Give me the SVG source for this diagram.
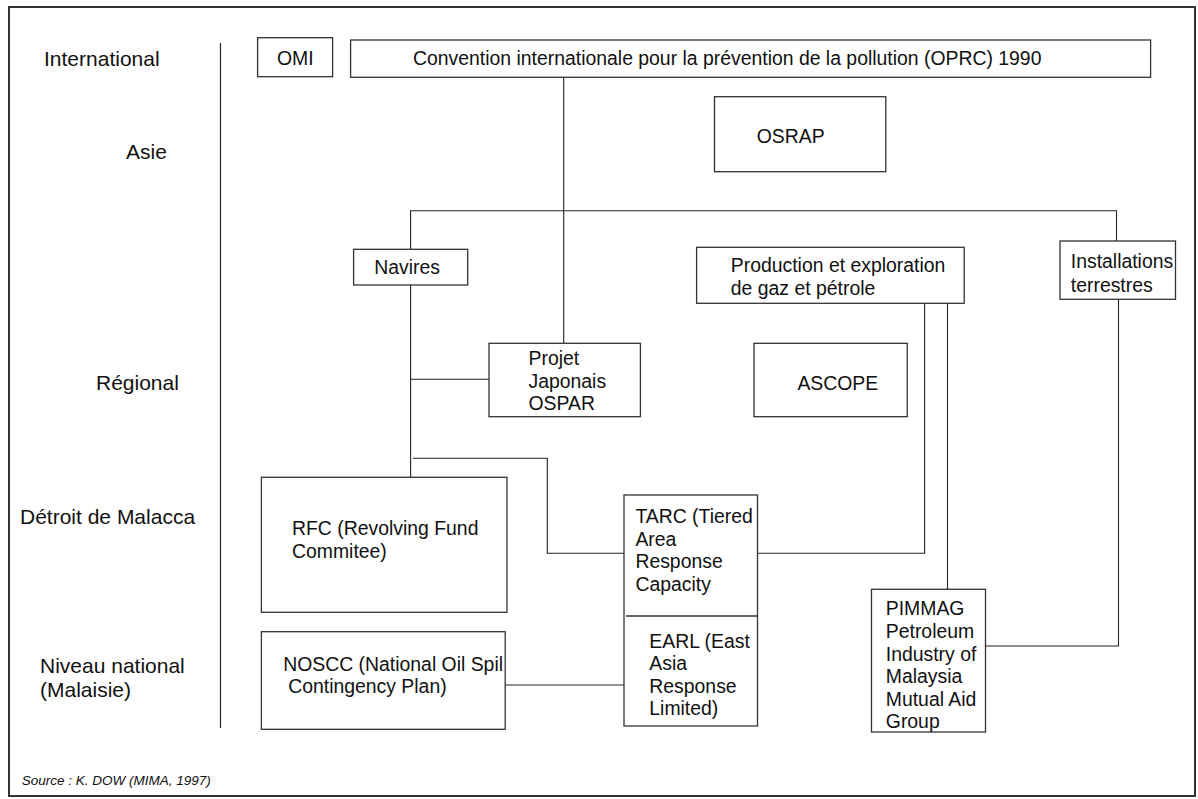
<svg xmlns="http://www.w3.org/2000/svg" width="1198" height="799" viewBox="0 0 1198 799">
<style>
  text { font-family: "Liberation Sans", Arial, sans-serif; fill: #111; }
  .lbl { font-size: 21px; }
  .bx { font-size: 19.4px; }
  .src { font-size: 13.5px; font-style: italic; }
  rect.node { fill: #fff; stroke: #333; stroke-width: 1.3; }
  .conn path, .conn line { fill: none; stroke: #222; stroke-width: 1.1; }
</style>
<rect x="0" y="0" width="1198" height="799" fill="#fff"/>
<rect x="9" y="7" width="1186" height="789" fill="none" stroke="#333" stroke-width="2"/>
<line x1="220.5" y1="43" x2="220.5" y2="728" stroke="#222" stroke-width="1.2"/>

<g id="levels">
  <text class="lbl" x="44" y="66">International</text>
  <text class="lbl" x="126" y="159">Asie</text>
  <text class="lbl" x="96" y="390">Régional</text>
  <text class="lbl" x="20" y="524">Détroit de Malacca</text>
  <text class="lbl" x="40" y="673">Niveau national</text>
  <text class="lbl" x="40" y="697">(Malaisie)</text>
</g>

<g class="conn" id="connectors">
  <line x1="563.7" y1="77" x2="563.7" y2="343.3"/>
  <path d="M410.6 249.3 V210.7 H1116.5 V241"/>
  <path d="M410.6 285 V477.3"/>
  <line x1="410.6" y1="379.3" x2="489" y2="379.3"/>
  <path d="M413 458.3 H547.3 V553.3 H624"/>
  <path d="M924.6 303.3 V553.3 H757.5"/>
  <line x1="947.5" y1="304" x2="947.5" y2="589.3"/>
  <path d="M1118.5 299.3 V646 H985.5"/>
  <line x1="505.2" y1="685" x2="624" y2="685"/>
</g>

<g id="omi">
  <rect class="node" x="257.6" y="37.7" width="75" height="39"/>
  <text class="bx" x="277" y="65">OMI</text>
</g>
<g id="oprc">
  <rect class="node" x="350.6" y="40" width="800" height="37.3"/>
  <text class="bx" x="413" y="65">Convention internationale pour la prévention de la pollution (OPRC) 1990</text>
</g>
<g id="osrap">
  <rect class="node" x="714.5" y="96.7" width="171.3" height="75"/>
  <text class="bx" x="756.7" y="143">OSRAP</text>
</g>
<g id="navires">
  <rect class="node" x="353.6" y="249.3" width="114.1" height="35.7"/>
  <text class="bx" x="374.3" y="274.3">Navires</text>
</g>
<g id="production">
  <rect class="node" x="696.6" y="247.3" width="267.6" height="56"/>
  <text class="bx" x="730.8" y="272.3">Production et exploration</text>
  <text class="bx" x="730.8" y="295">de gaz et pétrole</text>
</g>
<g id="installations">
  <rect class="node" x="1060" y="241" width="115.5" height="58.3"/>
  <text class="bx" x="1070.8" y="268.3">Installations</text>
  <text class="bx" x="1070.8" y="291.7">terrestres</text>
</g>
<g id="projet">
  <rect class="node" x="489" y="343.3" width="151.4" height="73.4"/>
  <text class="bx" x="528.5" y="365">Projet</text>
  <text class="bx" x="528.5" y="388.3">Japonais</text>
  <text class="bx" x="528.5" y="410">OSPAR</text>
</g>
<g id="ascope">
  <rect class="node" x="754" y="343.3" width="153.2" height="73.4"/>
  <text class="bx" x="797.4" y="390">ASCOPE</text>
</g>
<g id="rfc">
  <rect class="node" x="261.4" y="477.3" width="245.6" height="135"/>
  <text class="bx" x="292" y="535">RFC (Revolving Fund</text>
  <text class="bx" x="292" y="558.3">Commitee)</text>
</g>
<g id="tarc-earl">
  <rect class="node" x="624" y="495" width="133.5" height="231"/>
  <line x1="626" y1="616" x2="757.5" y2="616" stroke="#333" stroke-width="1.3"/>
  <text class="bx" x="635.4" y="523.3">TARC (Tiered</text>
  <text class="bx" x="635.4" y="545.7">Area</text>
  <text class="bx" x="635.4" y="568.3">Response</text>
  <text class="bx" x="635.4" y="591">Capacity</text>
  <text class="bx" x="649.3" y="647.7">EARL (East</text>
  <text class="bx" x="649.3" y="670">Asia</text>
  <text class="bx" x="649.3" y="692.7">Response</text>
  <text class="bx" x="649.3" y="715">Limited)</text>
</g>
<g id="noscc">
  <rect class="node" x="261.4" y="631.7" width="243.8" height="97.6"/>
  <text class="bx" x="283.2" y="670.7">NOSCC (National Oil Spil</text>
  <text class="bx" x="288.2" y="692.7">Contingency Plan)</text>
</g>
<g id="pimmag">
  <rect class="node" x="871.5" y="589.3" width="114" height="142.7"/>
  <text class="bx" x="885.8" y="615">PIMMAG</text>
  <text class="bx" x="885.8" y="637.7">Petroleum</text>
  <text class="bx" x="885.8" y="660.7">Industry of</text>
  <text class="bx" x="885.8" y="683.3">Malaysia</text>
  <text class="bx" x="885.8" y="706">Mutual Aid</text>
  <text class="bx" x="885.8" y="728.3">Group</text>
</g>
<text class="src" x="21.7" y="785">Source : K. DOW (MIMA, 1997)</text>
</svg>
